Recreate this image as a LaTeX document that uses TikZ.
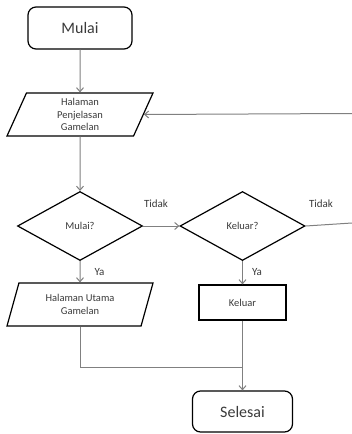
\documentclass[tikz,border=0pt]{standalone}
\usepackage{fontspec}
\setmainfont{Carlito}
\usetikzlibrary{shapes.geometric,arrows.meta}
\definecolor{conn}{HTML}{808080}
\definecolor{txt}{HTML}{3A3A3A}
\tikzset{
  base/.style={draw=black, line width=1.2pt, text=txt, inner sep=0pt, align=center},
  terminal/.style={base, rectangle, rounded corners=8pt, font=\fontsize{16}{19}\selectfont},
  io/.style={base, trapezium, trapezium left angle=59, trapezium right angle=121,
     trapezium stretches body, minimum width=146pt, minimum height=43pt,
     font=\fontsize{10.5}{12.5}\selectfont},
  decision/.style={base, diamond, minimum width=125pt, minimum height=69pt,
     font=\fontsize{10.5}{12.5}\selectfont},
  process/.style={base, rectangle, minimum width=87pt, minimum height=35pt,
     font=\fontsize{10.5}{12.5}\selectfont},
  conline/.style={draw=conn, line width=1pt},
  arr/.style={conline, -{Straight Barb[length=4pt,width=7pt]}},
  lbl/.style={text=txt, font=\fontsize{11}{13}\selectfont, inner sep=0pt}
}
\begin{document}
\begin{tikzpicture}[x=1pt,y=-1pt]
\useasboundingbox (0,0) rectangle (352,434);
\node[terminal, minimum width=104pt, minimum height=42pt] (mulai) at (80,28) {Mulai};
\node[io] (p1) at (80,114.5) {Halaman\\Penjelasan\\Gamelan};
\node[decision] (d1) at (80,226) {Mulai?};
\node[decision] (d2) at (242.5,226) {Keluar?};
\node[io] (p2) at (80,304.5) {Halaman Utama\\Gamelan};
\node[process] (keluar) at (242.5,302.5) {Keluar};
\node[terminal, minimum width=100pt, minimum height=41pt] (selesai) at (242.5,411.5) {Selesai};
\coordinate (e1) at (352,223);
\coordinate (e2) at (352,113.5);
\coordinate (j) at (242.5,367.5);
\node[lbl] (t1) at (156,204) {Tidak};
\node[lbl] (t2) at (321,204) {Tidak};
\node[lbl] (y1) at (99.5,272) {Ya};
\node[lbl] (y2) at (257,272) {Ya};
\draw[arr] (mulai.south) -- (p1.north);
\draw[arr] (p1.south) -- (d1.north);
\draw[arr] (d1.east) -- (d2.west);
\draw[arr] (d1.south) -- (p2.north);
\draw[arr] (d2.south) -- (keluar.north);
\draw[conline] (d2.east) -- (e1);
\draw[arr] (e2) -- (p1.east);
\draw[conline] (p2.south) |- (j);
\draw[arr] (keluar.south) -- (selesai.north);
\end{tikzpicture}
\end{document}
